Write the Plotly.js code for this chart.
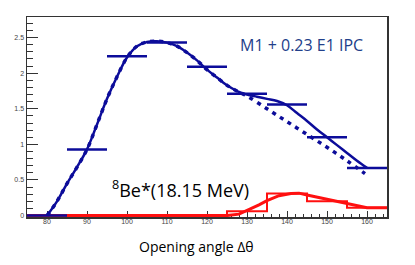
<!DOCTYPE html>
<html><head><meta charset="utf-8">
<script src="https://cdn.plot.ly/plotly-3.0.1.min.js"></script>
<style>html,body{margin:0;padding:0;background:#fff}#plot{width:415px;height:265px}</style>
</head><body><div id="plot"></div>
<script>
// Blue data histogram (bin centres, width 10)
const blueBinCenters = [80, 90, 100, 110, 120, 130, 140, 150, 160];
const blueBinValues  = [0, 0.93, 2.24, 2.43, 2.09, 1.71, 1.56, 1.10, 0.67];
const binHalfWidth = 5;

// Blue solid curve (M1 + 0.23 E1 IPC)
const solidX = [80, 82.5, 85, 87.5, 90, 92.5, 95, 97.5, 100, 102.5, 105, 107.5, 110, 112.5, 115, 117.5, 120, 122.5, 125, 127.5, 130, 132.5, 135, 137.5, 140, 142.5, 145, 147.5, 150, 152.5, 155, 157.5, 160];
const solidY = [0, 0.2, 0.45, 0.68, 0.93, 1.28, 1.64, 1.95, 2.22, 2.38, 2.44, 2.45, 2.43, 2.38, 2.29, 2.18, 2.05, 1.94, 1.83, 1.75, 1.70, 1.67, 1.64, 1.61, 1.55, 1.44, 1.33, 1.21, 1.10, 0.99, 0.88, 0.77, 0.67];

// Blue dotted curve
const dottedX = [80, 82.5, 85, 87.5, 90, 92.5, 95, 97.5, 100, 102.5, 105, 107.5, 110, 112.5, 115, 117.5, 120, 122.5, 125, 127.5, 130, 135, 140, 145, 150, 155, 159.5];
const dottedY = [0, 0.2, 0.45, 0.68, 0.93, 1.28, 1.64, 1.95, 2.22, 2.38, 2.44, 2.45, 2.43, 2.38, 2.29, 2.18, 2.05, 1.94, 1.83, 1.75, 1.68, 1.50, 1.32, 1.14, 0.96, 0.77, 0.59];

// Red 8Be* histogram
const redEdges  = [125, 125, 135, 145, 155, 165];
const redValues = [0, 0.06, 0.31, 0.20, 0.11, 0.11];

// Red curve
const redCurveX = [75, 125, 128, 130, 133, 135, 138, 141, 143, 145, 150, 155, 160, 165];
const redCurveY = [0, 0, 0.02, 0.07, 0.15, 0.21, 0.28, 0.31, 0.315, 0.29, 0.23, 0.17, 0.11, 0.11];

const xTicks = [80, 90, 100, 110, 120, 130, 140, 150, 160];
const yTicks = [0, 0.5, 1, 1.5, 2, 2.5];
const yTickText = ['0', '0.5', '1', '1.5', '2', '2.5'];

const BLUE = '#0c0c9a';
const RED = '#ff1010';

const traces = [
  {x: redCurveX, y: redCurveY, mode: 'lines', line: {color: RED, width: 3}, hoverinfo: 'skip'},
  {x: redEdges, y: redValues, mode: 'lines', line: {color: RED, width: 2, shape: 'hv'}, hoverinfo: 'skip'},
  {x: dottedX, y: dottedY, mode: 'lines', line: {color: BLUE, width: 3.5, dash: '4px,5px', shape: 'spline'}, hoverinfo: 'skip'},
  {x: solidX, y: solidY, mode: 'lines', line: {color: BLUE, width: 2.5, shape: 'spline'}, hoverinfo: 'skip'},
  {x: blueBinCenters, y: blueBinValues, mode: 'markers', marker: {size: 1, color: BLUE, opacity: 0},
   error_x: {type: 'constant', value: binHalfWidth, thickness: 2.5, width: 0, color: BLUE}, hoverinfo: 'skip'}
];

const tickFont = {family: 'Liberation Sans, Arial, sans-serif', size: 7, color: '#444'};

const layout = {
  width: 415, height: 265,
  margin: {l: 27, r: 28, t: 17, b: 48},
  paper_bgcolor: '#fff', plot_bgcolor: '#fff',
  showlegend: false,
  xaxis: {
    range: [75, 165], tickvals: xTicks, ticks: 'inside', ticklen: 6, tickwidth: 1, tickcolor: '#333',
    minor: {dtick: 2, ticks: 'inside', ticklen: 3, tickcolor: '#333', showgrid: false},
    showline: true, linecolor: '#333', linewidth: 1.5, mirror: true, showgrid: false, zeroline: false,
    tickfont: tickFont, layer: 'below traces', ticklabelstandoff: -3
  },
  yaxis: {
    range: [-0.02, 2.79], tickvals: yTicks, ticktext: yTickText, ticks: 'inside', ticklen: 11, tickwidth: 1, tickcolor: '#333',
    minor: {dtick: 0.1, ticks: 'inside', ticklen: 6, tickcolor: '#333', showgrid: false},
    showline: true, linecolor: '#333', linewidth: 1.5, mirror: true, showgrid: false, zeroline: false,
    tickfont: tickFont, layer: 'below traces'
  },
  annotations: [
    {x: 143.5, y: 2.40, xref: 'x', yref: 'y', text: 'M1 + 0.23 E1 IPC', showarrow: false,
     xanchor: 'center', yanchor: 'middle',
     font: {family: 'Open Sans, sans-serif', size: 16, color: '#22408a'}},
    {x: 113.3, y: 0.38, xref: 'x', yref: 'y', text: '<sup>8</sup>Be*(18.15 MeV)', showarrow: false,
     xanchor: 'center', yanchor: 'middle',
     font: {family: 'Open Sans, sans-serif', size: 18, color: '#000'}},
    {x: 0.472, y: -0.145, xref: 'paper', yref: 'paper', text: 'Opening angle Δθ', showarrow: false,
     xanchor: 'center', yanchor: 'middle',
     font: {family: 'Open Sans, sans-serif', size: 14, color: '#000'}}
  ]
};

Plotly.newPlot('plot', traces, layout, {displayModeBar: false, staticPlot: true});
</script></body></html>
